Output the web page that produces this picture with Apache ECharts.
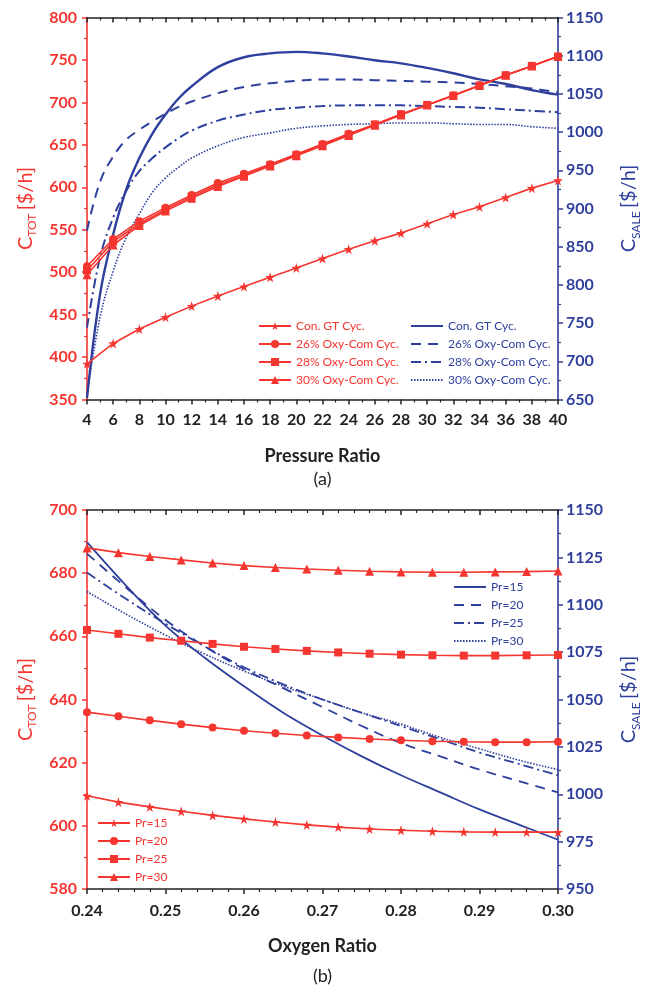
<!DOCTYPE html>
<html>
<head>
<meta charset="utf-8">
<script src="https://cdn.jsdelivr.net/npm/echarts@6/dist/echarts.min.js"></script>
<style>
  html, body { margin: 0; padding: 0; background: #fff; }
  #main { width: 645px; height: 996px; }
</style>
</head>
<body>
<div id="main"></div>
<script>
// (a) 压比 Pressure Ratio
var prX = [4, 6, 8, 10, 12, 14, 16, 18, 20, 22, 24, 26, 28, 30, 32, 34, 36, 38, 40];
var ctotConGT = [392, 416, 433, 447, 460, 472, 483, 494, 505, 516, 527, 537, 546, 557, 568, 577, 588, 599, 608];
var ctot26 = [507, 539, 560, 576, 591, 605, 616, 627, 639, 651, 663, 674, 686, 697, 708, 720, 732, 743, 754];
var ctot28 = [502, 536, 557, 574, 589, 603, 614, 626, 638, 650, 662, 674, 686, 697, 708, 720, 732, 743, 754];
var ctot30 = [497, 532, 555, 572, 587, 601, 613, 625, 637, 649, 661, 673, 685, 697, 708, 720, 732, 743, 754];

var prFineX = [4, 5, 6, 7, 8, 9, 10, 11, 12, 14, 16, 18, 20, 22, 24, 26, 28, 30, 32, 34, 36, 38, 40];
var csaleConGT = [652, 788, 866, 925, 966, 998, 1023, 1044, 1060, 1085, 1098, 1103, 1105, 1103, 1099, 1094, 1090, 1084, 1077, 1069, 1063, 1055, 1049];
var csale26 = [871, 935, 968, 990, 1003, 1014, 1024, 1033, 1040, 1051, 1059, 1064, 1067, 1069, 1069, 1068, 1067, 1066, 1065, 1063, 1060, 1057, 1052];
var csale28 = [744, 836, 888, 923, 949, 966, 980, 992, 1002, 1015, 1023, 1029, 1032, 1034, 1035, 1035, 1035, 1034, 1033, 1032, 1030, 1028, 1026];
var csale30 = [655, 758, 818, 862, 893, 921, 940, 954, 966, 982, 993, 999, 1005, 1008, 1010, 1011, 1012, 1012, 1011, 1010, 1010, 1007, 1005];

// (b) 氧比 Oxygen Ratio
var oxX = [0.24, 0.244, 0.248, 0.252, 0.256, 0.26, 0.264, 0.268, 0.272, 0.276, 0.28, 0.284, 0.288, 0.292, 0.296, 0.30];
var ctotPr15 = [609.5, 607.5, 606, 604.6, 603.3, 602.2, 601.2, 600.3, 599.6, 599.0, 598.6, 598.3, 598.1, 598.0, 598.0, 598.0];
var ctotPr20 = [636, 634.7, 633.4, 632.2, 631.1, 630.1, 629.3, 628.6, 628.0, 627.5, 627.1, 626.8, 626.6, 626.5, 626.5, 626.6];
var ctotPr25 = [662, 660.8, 659.6, 658.6, 657.6, 656.7, 656.0, 655.4, 654.9, 654.5, 654.2, 654.0, 653.9, 653.9, 654.0, 654.1];
var ctotPr30 = [688, 686.5, 685.3, 684.2, 683.2, 682.4, 681.8, 681.3, 680.9, 680.6, 680.4, 680.3, 680.3, 680.4, 680.5, 680.7];

var oxFineX = [0.24, 0.245, 0.25, 0.255, 0.26, 0.265, 0.27, 0.275, 0.28, 0.285, 0.29, 0.295, 0.30];
var csalePr15 = [1133, 1110, 1089, 1072, 1057, 1043, 1031, 1020, 1010, 1001, 992, 984, 976];
var csalePr20 = [1127, 1109, 1092, 1078, 1066, 1056, 1046, 1036, 1027, 1020, 1013, 1007, 1001];
var csalePr25 = [1117, 1103, 1090, 1078, 1067, 1058, 1050, 1043, 1036, 1029, 1022, 1016, 1010];
var csalePr30 = [1107, 1095, 1084, 1074, 1065, 1057, 1050, 1043, 1037, 1030, 1024, 1018, 1013];

var RED = '#f5352f';
var BLUE = '#2e3f9c';
var BLACK = '#222';
var FONT = 'Lato';
var STAR = 'path://M50,0 L61,35 L98,35 L68,57 L79,91 L50,70 L21,91 L32,57 L2,35 L39,35 Z';

function pairs(xs, ys) {
    return xs.map(function (x, i) { return [x, ys[i]]; });
}

var chart = echarts.init(document.getElementById('main'));

function redLine(name, xs, ys, symbol, size, xi, yi) {
    return {
        name: name, type: 'line', xAxisIndex: xi, yAxisIndex: yi,
        data: pairs(xs, ys), symbol: symbol, symbolSize: size,
        itemStyle: { color: RED }, lineStyle: { color: RED, width: 1.6 },
        z: 3
    };
}
function blueLine(name, xs, ys, dash, width, xi, yi) {
    return {
        name: name, type: 'line', xAxisIndex: xi, yAxisIndex: yi,
        data: pairs(xs, ys), symbol: 'none', smooth: 0.4,
        itemStyle: { color: BLUE }, lineStyle: { color: BLUE, width: width, type: dash },
        z: 2
    };
}

function xAxisBottom(grid, min, max, interval, minorSplit, name, fmt, margin) {
    return {
        type: 'value', gridIndex: grid, position: 'bottom', min: min, max: max, interval: interval,
        axisLine: { lineStyle: { color: BLACK, width: 1.5 } },
        axisTick: { inside: false, length: 5, lineStyle: { color: BLACK, width: 1.5 } },
        minorTick: { show: true, splitNumber: minorSplit, length: 3, lineStyle: { color: BLACK, width: 1.2 } },
        splitLine: { show: false },
        axisLabel: { color: BLACK, fontFamily: FONT, fontWeight: 'bold', fontSize: 16, margin: margin, formatter: fmt },
        name: name, nameLocation: 'middle', nameGap: 48,
        nameTextStyle: { color: BLACK, fontFamily: FONT, fontWeight: 'bold', fontSize: 18 }
    };
}
function xAxisTop(grid, min, max, interval, minorSplit) {
    return {
        type: 'value', gridIndex: grid, position: 'top', min: min, max: max, interval: interval,
        axisLine: { lineStyle: { color: BLACK, width: 1.5 } },
        axisTick: { inside: true, length: 5, lineStyle: { color: BLACK, width: 1.5 } },
        minorTick: { show: true, splitNumber: minorSplit, length: 3, lineStyle: { color: BLACK, width: 1.2 } },
        splitLine: { show: false },
        axisLabel: { show: false }
    };
}
function yAxisSide(grid, pos, color, min, max, interval, sub, gap, margin) {
    return {
        type: 'value', gridIndex: grid, position: pos, min: min, max: max, interval: interval,
        axisLine: { show: true, lineStyle: { color: color, width: 1.6 } },
        axisTick: { show: true, inside: false, length: 5, lineStyle: { color: color, width: 1.5 } },
        minorTick: { show: true, splitNumber: 2, length: 3, lineStyle: { color: color, width: 1.2 } },
        splitLine: { show: false },
        axisLabel: {
            color: color, fontFamily: FONT, fontWeight: 'bold', fontSize: 16, margin: margin,
            formatter: function (v) { return String(v); }
        },
        name: '{m|C}{s|' + sub + '} {m|[$/h]}',
        nameLocation: 'middle', nameRotate: 90, nameGap: gap,
        nameTextStyle: {
            color: color,
            rich: {
                m: { color: color, fontFamily: FONT, fontSize: 20, lineHeight: 26, verticalAlign: 'middle' },
                s: { color: color, fontFamily: FONT, fontSize: 12, lineHeight: 26, verticalAlign: 'bottom' }
            }
        }
    };
}

function legendBox(names, color, left, top, hideSymbol) {
    var lg = {
        data: names, orient: 'vertical', left: left, top: top,
        itemWidth: 32, itemHeight: 10, itemGap: 6, padding: 0,
        selectedMode: false,
        textStyle: { color: color, fontFamily: FONT, fontSize: 12 }
    };
    if (hideSymbol) {
        lg.itemStyle = { color: 'rgba(0,0,0,0)', borderWidth: 0, opacity: 0 };
    }
    return lg;
}

option = {
    animation: false,
    backgroundColor: '#fff',
    title: [
        { text: '(a)', left: 'center', top: 470, padding: 0, textStyle: { color: BLACK, fontFamily: FONT, fontWeight: 'normal', fontSize: 18 } },
        { text: '(b)', left: 'center', top: 967, padding: 0, textStyle: { color: BLACK, fontFamily: FONT, fontWeight: 'normal', fontSize: 18 } }
    ],
    grid: [
        { left: 87, top: 17.5, width: 471, height: 382, containLabel: false, outerBoundsMode: 'none' },
        { left: 87, top: 510, width: 471, height: 379, containLabel: false, outerBoundsMode: 'none' }
    ],
    legend: [
        legendBox(['Con. GT Cyc.', '26% Oxy-Com Cyc.', '28% Oxy-Com Cyc.', '30% Oxy-Com Cyc.'], RED, 258, 320, false),
        legendBox(['Con. GT Cyc. ', '26% Oxy-Com Cyc. ', '28% Oxy-Com Cyc. ', '30% Oxy-Com Cyc. '], BLUE, 410, 320, true),
        legendBox(['Pr=15', 'Pr=20', 'Pr=25', 'Pr=30'], RED, 97, 817, false),
        legendBox(['Pr=15 ', 'Pr=20 ', 'Pr=25 ', 'Pr=30 '], BLUE, 453, 581, true)
    ],
    xAxis: [
        xAxisBottom(0, 4, 40, 2, 2, 'Pressure Ratio', null, 12),
        xAxisTop(0, 4, 40, 2, 2),
        xAxisBottom(1, 0.24, 0.30, 0.01, 5, 'Oxygen Ratio', function (v) { return v.toFixed(2); }, 14),
        xAxisTop(1, 0.24, 0.30, 0.01, 5)
    ],
    yAxis: [
        yAxisSide(0, 'left', RED, 350, 800, 50, 'TOT', 48, 10),
        yAxisSide(0, 'right', BLUE, 650, 1150, 50, 'SALE', 58, 8),
        yAxisSide(1, 'left', RED, 580, 700, 20, 'TOT', 48, 10),
        yAxisSide(1, 'right', BLUE, 950, 1150, 25, 'SALE', 58, 8)
    ],
    series: [
        blueLine('Con. GT Cyc. ', prFineX, csaleConGT, 'solid', 2.4, 0, 1),
        blueLine('26% Oxy-Com Cyc. ', prFineX, csale26, [10, 7], 2, 0, 1),
        blueLine('28% Oxy-Com Cyc. ', prFineX, csale28, [10, 4, 2, 4], 2, 0, 1),
        blueLine('30% Oxy-Com Cyc. ', prFineX, csale30, [1.5, 1.5], 1.6, 0, 1),
        redLine('Con. GT Cyc.', prX, ctotConGT, STAR, 10, 0, 0),
        redLine('26% Oxy-Com Cyc.', prX, ctot26, 'circle', 8, 0, 0),
        redLine('28% Oxy-Com Cyc.', prX, ctot28, 'rect', 8, 0, 0),
        redLine('30% Oxy-Com Cyc.', prX, ctot30, 'triangle', 9, 0, 0),

        blueLine('Pr=15 ', oxFineX, csalePr15, 'solid', 1.8, 2, 3),
        blueLine('Pr=20 ', oxFineX, csalePr20, [10, 7], 1.8, 2, 3),
        blueLine('Pr=25 ', oxFineX, csalePr25, [10, 4, 2, 4], 1.8, 2, 3),
        blueLine('Pr=30 ', oxFineX, csalePr30, [1.5, 1.5], 1.6, 2, 3),
        redLine('Pr=15', oxX, ctotPr15, STAR, 10, 2, 2),
        redLine('Pr=20', oxX, ctotPr20, 'circle', 8, 2, 2),
        redLine('Pr=25', oxX, ctotPr25, 'rect', 8, 2, 2),
        redLine('Pr=30', oxX, ctotPr30, 'triangle', 9, 2, 2)
    ]
};
chart.setOption(option);
</script>
</body>
</html>
